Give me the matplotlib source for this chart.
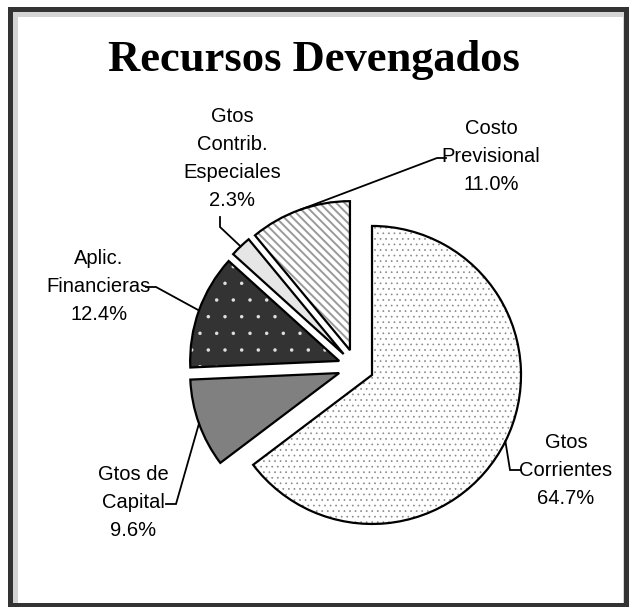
import matplotlib
matplotlib.use("Agg")
import matplotlib.pyplot as plt
from matplotlib.patches import Rectangle
import numpy as np

# data
names = ['Gtos\nCorrientes', 'Gtos de\nCapital', 'Aplic.\nFinancieras',
         'Gtos\nContrib.\nEspeciales', 'Costo\nPrevisional']
shares = [64.7, 9.6, 12.4, 2.3, 11.0]
title = 'Recursos Devengados'

# styles per slice
faces = ['white', '#808080', '#333333', '#e6e6e6', 'white']
hatches = ['...', '', '.', '', '\\\\\\\\']
hatch_cols = ['#8a8a8a', '#808080', '#e0e0e0', '#e6e6e6', '#9a9a9a']
hatch_lw = [0.5, 0.5, 0.1, 0.5, 1.4]

# label layout in pixels: text centre, elbow, end of leader
text_pos = [(566, 470), (133, 503), (99, 287), (232, 158), (491, 157)]
elbows = [(510, 470), (176, 504), (156, 287), (220, 227), (437, 158)]
ends = [(521, 470), (166, 504), (146, 287), (220, 217), (446, 158)]

W, H = 629, 607
CX, CY, R = 356, 367, 149


def px(x, y):
    return (x - CX) / R, (CY - y) / R


plt.rcParams['hatch.linewidth'] = 0.5
fig = plt.figure(figsize=(W / 100, H / 100), dpi=100)
fig.patch.set_facecolor('white')

# frame
fig.patches.append(Rectangle((8 / W, 0), 621 / W, 600 / H, transform=fig.transFigure,
                             fc='#333333', ec='none', zorder=-3))
fig.patches.append(Rectangle((13 / W, 4 / H), 611 / W, 591 / H, transform=fig.transFigure,
                             fc='#d4d4d4', ec='none', zorder=-2))
fig.patches.append(Rectangle((18 / W, 4 / H), 605 / W, 586 / H, transform=fig.transFigure,
                             fc='white', ec='none', zorder=-1))

ax = fig.add_axes([0, 0, 1, 1])
ax.patch.set_alpha(0)
explode = [0.12] * len(shares)

wedges, _ = ax.pie(shares, explode=explode, startangle=90, counterclock=False,
                   colors=faces, hatch=hatches, radius=1,
                   wedgeprops=dict(linewidth=0))
for w, hc, hl in zip(wedges, hatch_cols, hatch_lw):
    w.set_edgecolor(hc)
    w.set_linewidth(0)
    if hasattr(w, 'set_hatch_linewidth'):
        w.set_hatch_linewidth(hl)

outlines, _ = ax.pie(shares, explode=explode, startangle=90, counterclock=False,
                     radius=1, wedgeprops=dict(fill=False, edgecolor='black',
                                               linewidth=1.6, joinstyle='miter'))

for w, name, v, tp, el, en in zip(outlines, names, shares, text_pos, elbows, ends):
    mid = np.deg2rad((w.theta1 + w.theta2) / 2)
    cx, cy = w.center
    anchor = (cx + w.r * np.cos(mid), cy + w.r * np.sin(mid))
    e1, e2 = px(*el), px(*en)
    ax.plot([anchor[0], e1[0], e2[0]], [anchor[1], e1[1], e2[1]],
            color='black', lw=1.3, solid_joinstyle='miter')
    tx, ty = px(*tp)
    ax.text(tx, ty, f'{name}\n{v:.1f}%', ha='center', va='center',
            fontsize=14.5, linespacing=1.6, family='Liberation Sans')

ax.set_aspect('auto')
ax.set_xlim(-CX / R, (W - CX) / R)
ax.set_ylim(-(H - CY) / R, CY / R)
ax.axis('off')

fig.text(314 / W, 1 - 71 / H, title, ha='center', va='baseline',
         fontsize=32, fontweight='bold', family='Liberation Serif')

fig.savefig('out.png', dpi=100)
